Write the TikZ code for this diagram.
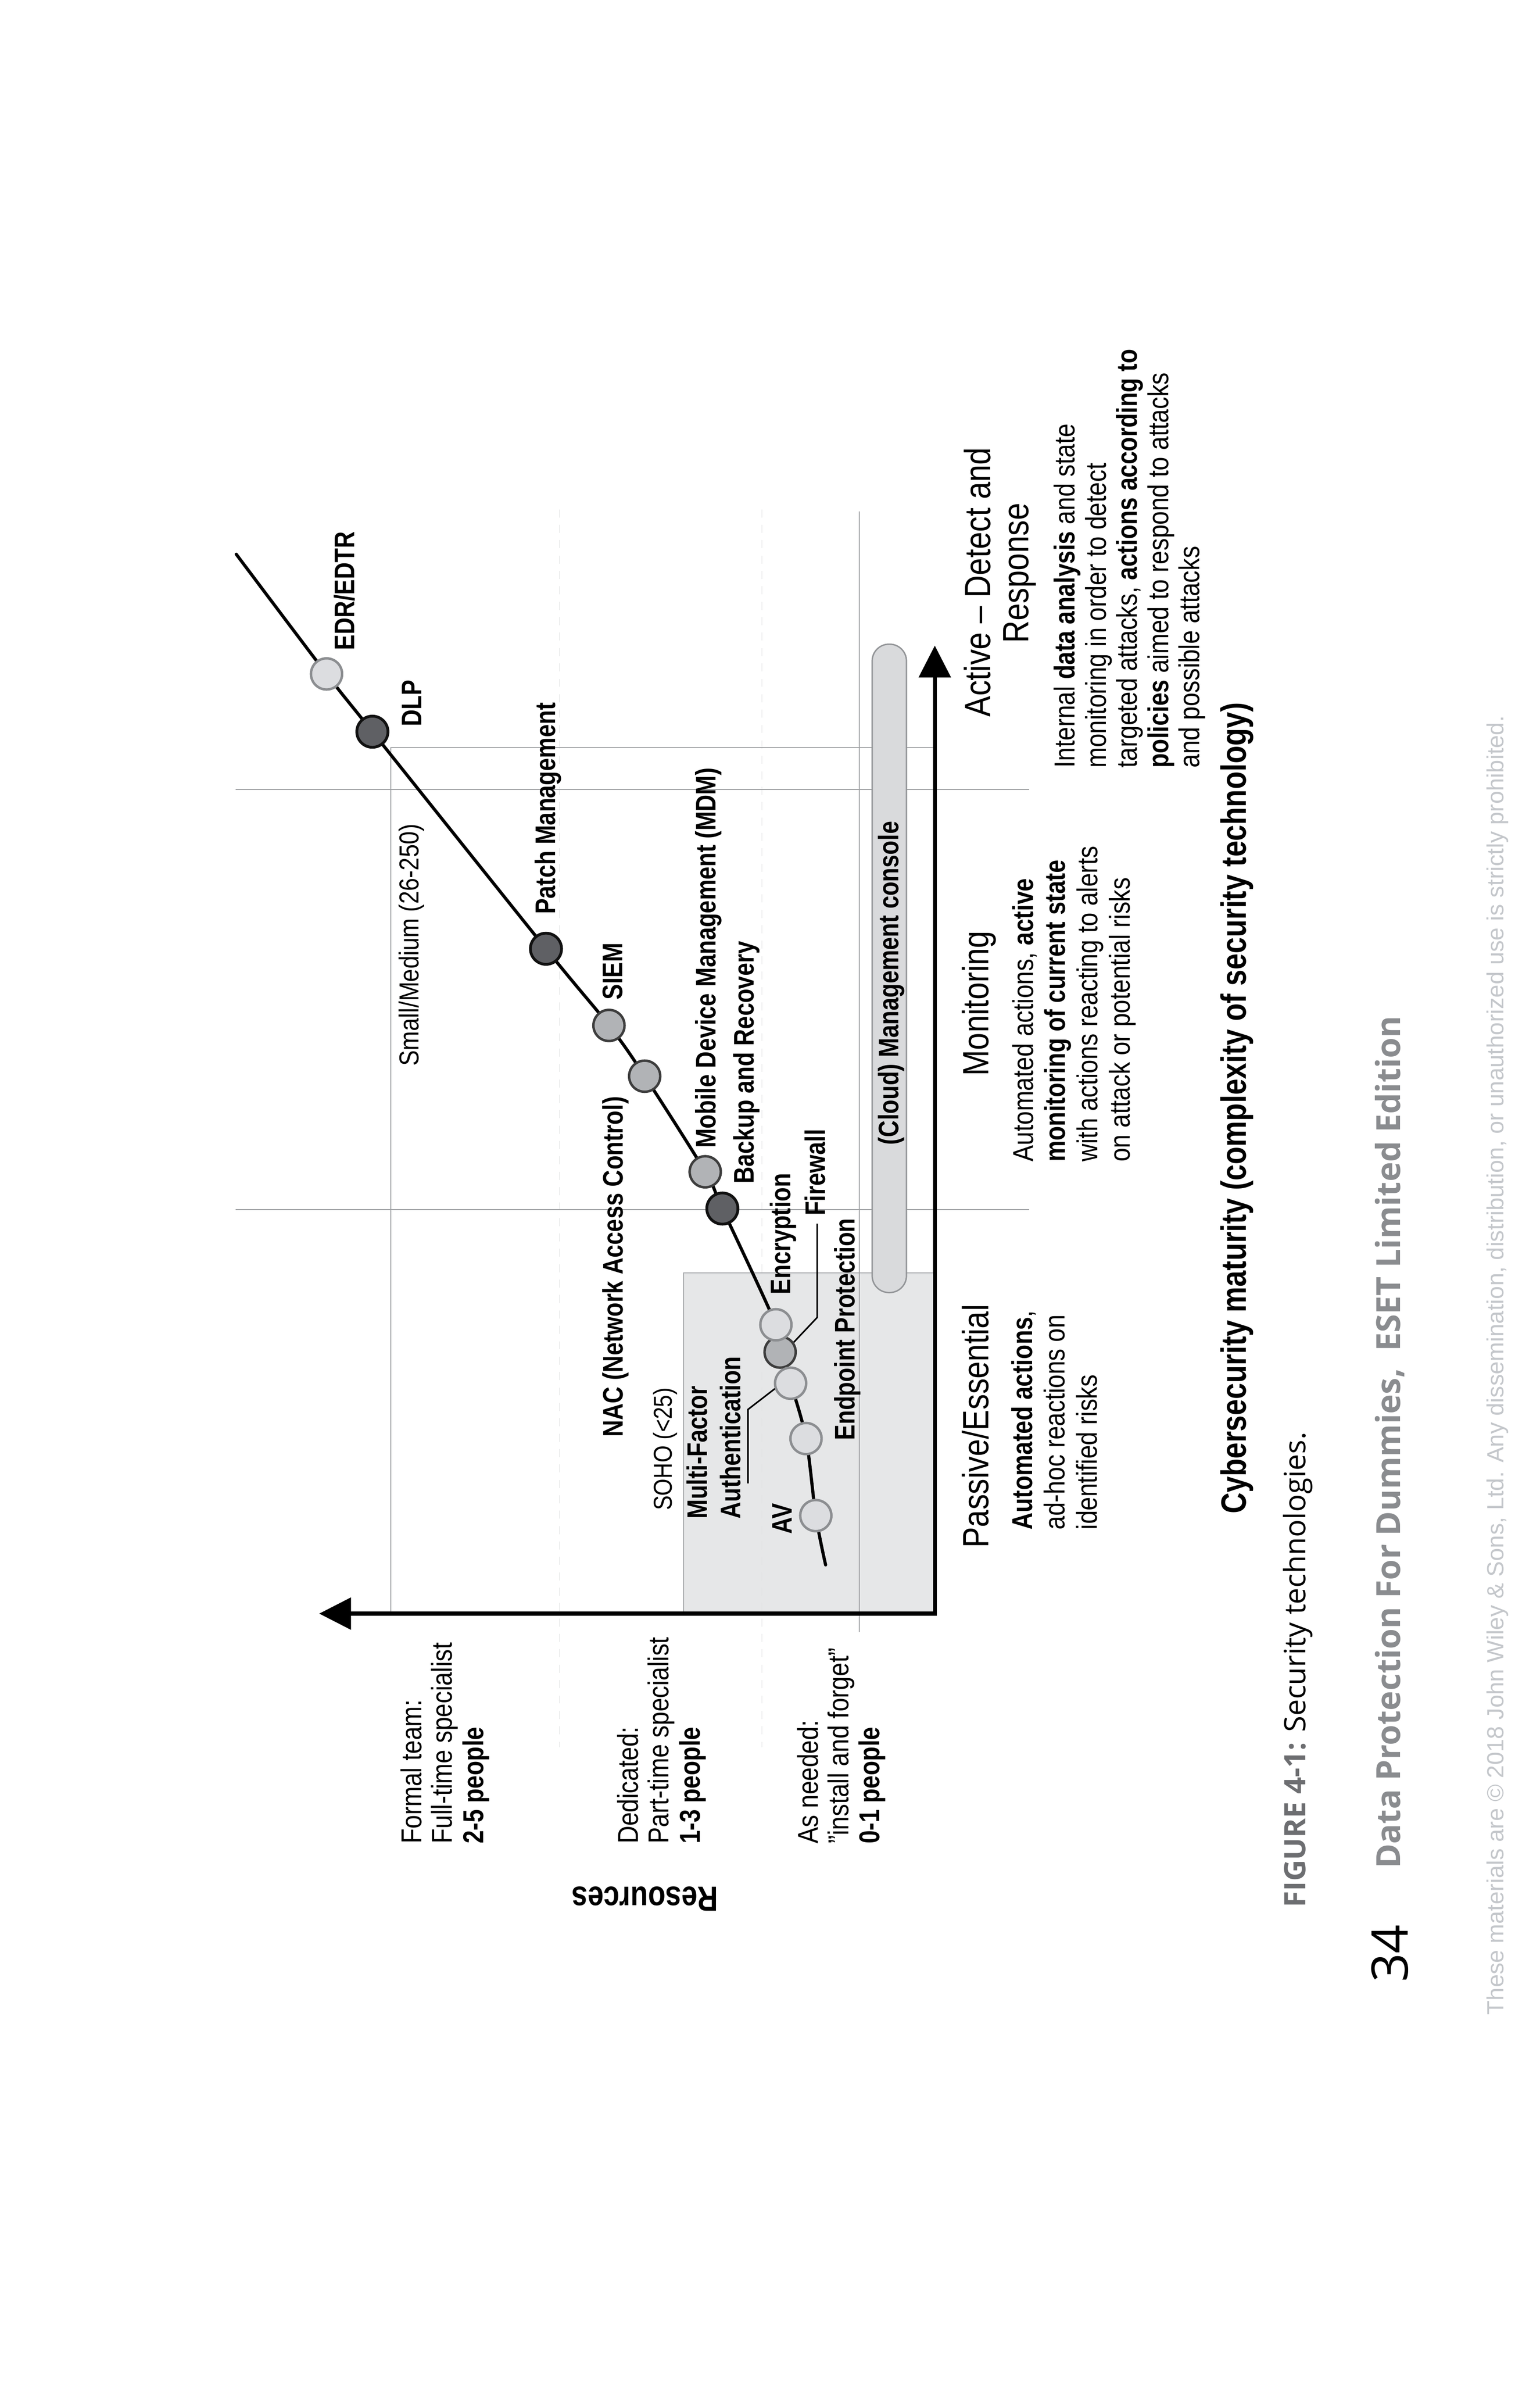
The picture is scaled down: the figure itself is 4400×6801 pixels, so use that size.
\documentclass[tikz,border=0pt]{standalone}
\usepackage{fontspec}
\setmainfont{Liberation Sans}[UprightFeatures={FakeStretch=0.85},BoldFeatures={FakeStretch=0.82}]
\newfontfamily\osans{Open Sans}
\newfontfamily\plainsans{Liberation Sans}
\usetikzlibrary{arrows.meta}
\definecolor{gridgray}{HTML}{9D9FA2}
\definecolor{dashgray}{HTML}{E0E1E2}
\definecolor{sohofill}{HTML}{E6E7E8}
\definecolor{sohodraw}{HTML}{A7A9AC}
\definecolor{barfill}{HTML}{D9DADC}
\definecolor{bardraw}{HTML}{939598}
\definecolor{lightfill}{HTML}{DCDDE0}
\definecolor{lightdraw}{HTML}{8C8E91}
\definecolor{midfill}{HTML}{B1B3B6}
\definecolor{middraw}{HTML}{3D3D3D}
\definecolor{darkfill}{HTML}{5F6064}
\definecolor{darkdraw}{HTML}{111111}
\definecolor{hdrgray}{HTML}{8A8C8F}
\definecolor{figgray}{HTML}{6D6E71}
\definecolor{footgray}{HTML}{C4C7CB}
\tikzset{
  lab/.style={rotate=90, anchor=base west, inner sep=0pt, font=\bfseries\fontsize{23}{25}\selectfont},
  txt/.style={rotate=90, anchor=base west, inner sep=0pt, font=\fontsize{23.4}{25}\selectfont},
  thinlab/.style={rotate=90, anchor=base west, inner sep=0pt, font=\fontsize{22.3}{25}\selectfont},
  ttl/.style={rotate=90, anchor=base west, inner sep=0pt, font=\fontsize{29.7}{32}\selectfont},
  grid/.style={draw=gridgray, line width=0.3mm},
  dashgrid/.style={draw=dashgray, line width=0.14mm, dash pattern=on 2.3mm off 2.1mm},
  circ/.style={circle, inner sep=0pt, minimum size=8.9mm, line width=0.7mm},
  lightc/.style={circ, fill=lightfill, draw=lightdraw},
  midc/.style={circ, fill=midfill, draw=middraw},
  darkc/.style={circ, fill=darkfill, draw=darkdraw, line width=0.8mm},
  curve/.style={draw=black, line width=0.9mm, line cap=round},
  leader/.style={draw=black, line width=0.45mm},
  axis/.style={draw=black, line width=1.1mm, line join=miter,
    {Triangle[length=9.1mm, width=9mm]}-{Triangle[length=9.1mm, width=9mm]}},
}
\begin{document}
\begin{tikzpicture}[x=0.1mm, y=-0.1mm]
\useasboundingbox[fill=white] (0,0) rectangle (4400,6801);

% regions
\fill[sohofill] (1953,3636) rectangle (2671,4609);
\draw[draw=sohodraw, line width=0.3mm] (2671,3636) -- (1953,3636) -- (1953,4609);

% dashed guide lines
\draw[dashgrid] (1599,1455) -- (1599,4990);
\draw[dashgrid] (2177,1455) -- (2177,4990);

% grid lines
\draw[grid] (673,2255) -- (2941,2255);
\draw[grid] (673,3455) -- (2941,3455);
\draw[grid] (1117,4609) -- (1117,2135) -- (2671,2135);
\draw[grid] (2455,1461) -- (2455,4661);

% cloud management bar
\draw[fill=barfill, draw=bardraw, line width=0.4mm, rounded corners=4.8mm] (2492,1840) rectangle (2590,3692);

% axes
\coordinate (ytip) at (912,4609);
\coordinate (origin) at (2671,4609);
\coordinate (xtip) at (2671,1844);
\draw[axis] (ytip) -- (origin) -- (xtip);

% curve points
\coordinate (pTop) at (675,1583);
\coordinate (pEDR) at (933,1925);
\coordinate (pDLP) at (1064,2090);
\coordinate (pPM) at (1560,2710);
\coordinate (pSIEM) at (1740,2929);
\coordinate (pNAC) at (1842,3074);
\coordinate (pMDM) at (2015,3347);
\coordinate (pBR) at (2064,3452);
\coordinate (pENC) at (2217,3784);
\coordinate (pFW) at (2229,3862);
\coordinate (pMFA) at (2259,3951);
\coordinate (pEPP) at (2303,4109);
\coordinate (pAV) at (2331,4329);
\coordinate (pBot) at (2359,4470);
\draw[curve] plot[smooth, tension=0.55] coordinates {(pTop) (pEDR) (pDLP) (pPM) (pSIEM) (pNAC) (pMDM) (pBR) (pENC) (pFW) (pMFA) (pEPP) (pAV) (pBot)};

% leaders
\coordinate (fwS) at (2250,3853);
\coordinate (fwA) at (2335,3763);
\coordinate (fwB) at (2335,3495);
\draw[leader] (fwS) -- (fwA) -- (fwB);
\coordinate (mfaS) at (2220,3962);
\coordinate (mfaA) at (2137,4026);
\coordinate (mfaB) at (2137,4237);
\draw[leader] (mfaS) -- (mfaA) -- (mfaB);

% circles
\node[lightc] (cEDR) at (pEDR) {};
\node[darkc] (cDLP) at (pDLP) {};
\node[darkc] (cPM) at (pPM) {};
\node[midc] (cSIEM) at (pSIEM) {};
\node[midc] (cNAC) at (pNAC) {};
\node[midc] (cMDM) at (pMDM) {};
\node[darkc] (cBR) at (pBR) {};
\node[midc] (cFW) at (pFW) {};
\node[lightc] (cENC) at (pENC) {};
\node[lightc] (cMFA) at (pMFA) {};
\node[lightc] (cEPP) at (pEPP) {};
\node[lightc] (cAV) at (pAV) {};

% technology labels
\node[lab] (tEDR) at (1012,1858) {EDR/EDTR};
\node[lab] (tDLP) at (1204,2076) {DLP};
\node[lab] (tPM) at (1586,2612) {Patch Management};
\node[lab] (tSIEM) at (1779,2856) {SIEM};
\node[lab] (tNAC) at (1780,4105) {NAC (Network Access Control)};
\node[lab] (tMDM) at (2045,3280) {Mobile Device Management (MDM)};
\node[lab] (tBR) at (2154,3382) {Backup and Recovery};
\node[lab] (tENC) at (2259,3698) {Encryption};
\node[lab] (tFW) at (2358,3473) {Firewall};
\node[lab] (tEPP) at (2442,4114) {Endpoint Protection};
\node[lab] (tMFA1) at (2021,4339) {Multi-Factor};
\node[lab] (tMFA2) at (2116,4339) {Authentication};
\node[lab] (tAV) at (2263,4382) {AV};
\node[lab] (tCMC) at (2568,3271) {(Cloud) Management console};
\node[thinlab] (tSM) at (1196,3046) {Small/Medium (26-250)};
\node[thinlab, font=\fontsize{21}{25}\selectfont] (tSOHO) at (1920,4315) {SOHO (<25)};

% resources labels
\node[txt] (r1a) at (1204,5267) {Formal team:};
\node[txt] (r1b) at (1292,5267) {Full-time specialist};
\node[txt] (r1c) at (1381,5267) {\textbf{2-5 people}};
\node[txt] (r2a) at (1823,5267) {Dedicated:};
\node[txt] (r2b) at (1911,5267) {Part-time specialist};
\node[txt] (r2c) at (2000,5267) {\textbf{1-3 people}};
\node[txt] (r3a) at (2338,5267) {As needed:};
\node[txt] (r3b) at (2424,5267) {”install and forget”};
\node[txt] (r3c) at (2513,5267) {\textbf{0-1 people}};
\node[rotate=180, anchor=center, inner sep=0pt, font=\bfseries\fontsize{28.4}{30}\selectfont] (res) at (1843,5424) {Resources};

% column titles
\node[ttl] (hP) at (2824,4422) {Passive/Essential};
\node[ttl] (hM) at (2824,3074) {Monitoring};
\node[ttl, anchor=base] (hA1) at (2830,1663) {Active – Detect and};
\node[ttl, anchor=base] (hA2) at (2939,1637) {Response};

% column descriptions
\node[txt] (p1) at (2950,4370) {\textbf{Automated actions},};
\node[txt] (p2) at (3042,4370) {ad-hoc reactions on};
\node[txt] (p3) at (3134,4370) {identified risks};
\node[txt] (m1) at (2952,3319) {Automated actions, \textbf{active}};
\node[txt] (m2) at (3044,3319) {\textbf{monitoring of current state}};
\node[txt] (m3) at (3136,3319) {with actions reacting to alerts};
\node[txt] (m4) at (3228,3319) {on attack or potential risks};
\node[txt] (a1) at (3071,2194) {Internal \textbf{data analysis} and state};
\node[txt] (a2) at (3160,2194) {monitoring in order to detect};
\node[txt] (a3) at (3249,2194) {targeted attacks, \textbf{actions according to}};
\node[txt] (a4) at (3338,2194) {\textbf{policies} aimed to respond to attacks};
\node[txt] (a5) at (3427,2194) {and possible attacks};

% axis title
\node[lab, font=\bfseries\fontsize{28.7}{31}\selectfont] (xt) at (3560,4324) {Cybersecurity maturity (complexity of security technology)};

% caption and page furniture
\node[rotate=90, anchor=base west, inner sep=0pt, font=\osans\fontsize{24}{26}\selectfont] (cap) at (3730,5449) {{\bfseries\color{figgray}FIGURE 4-1:} Security technologies.};
\node[rotate=90, anchor=base west, inner sep=0pt, font=\osans\fontsize{41}{44}\selectfont] (pg) at (4023,5663) {34};
\node[rotate=90, anchor=base west, inner sep=0pt, text=hdrgray, font=\osans\bfseries\fontsize{27}{30}\selectfont] (hdr) at (4001,5338) {Data Protection For Dummies,\hspace{0.25em} ESET Limited Edition};
\node[rotate=90, anchor=base west, inner sep=0pt, text=footgray, font=\plainsans\fontsize{19}{21}\selectfont] (foot) at (4296,5756) {These materials are © 2018 John Wiley \& Sons, Ltd. Any dissemination, distribution, or unauthorized use is strictly prohibited.};
\end{tikzpicture}
\end{document}
